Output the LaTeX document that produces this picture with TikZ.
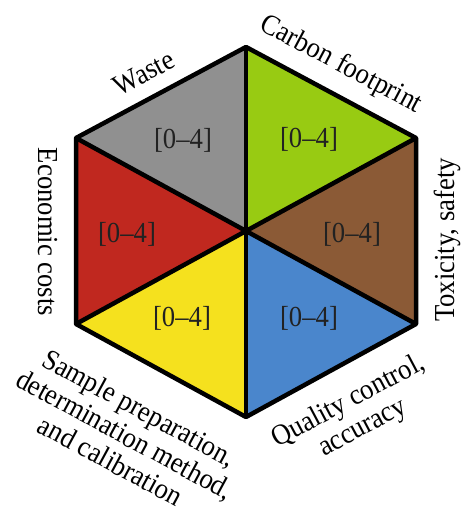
\documentclass[tikz,border=0pt]{standalone}
\usepackage{fontspec}
\setmainfont{Liberation Serif}[FakeStretch=0.92]
\definecolor{cgray}{HTML}{909090}
\definecolor{cgreen}{HTML}{98CB12}
\definecolor{cbrown}{HTML}{8B5A36}
\definecolor{cblue}{HTML}{4A86CC}
\definecolor{cyellow}{HTML}{F5E11E}
\definecolor{cred}{HTML}{C0281F}
\definecolor{ctext}{HTML}{222222}
\tikzset{
  sector/.style={draw=black, line width=4.5pt, line join=round},
  score/.style={text=ctext, font=\fontsize{29}{31}\selectfont, inner sep=0pt},
  axislabel/.style={text=black, font=\fontsize{29}{30}\selectfont, align=center, inner sep=0pt}
}
\begin{document}
\begin{tikzpicture}[x=1pt,y=1pt]
\useasboundingbox (0,0) rectangle (460,508);
\coordinate (C) at (246,277);
\coordinate (T) at (246,461);
\coordinate (UR) at (416,370);
\coordinate (LR) at (416,184);
\coordinate (B) at (246,91);
\coordinate (LL) at (76,184);
\coordinate (UL) at (76,370);
\fill[cgray] (C) -- (UL) -- (T) -- cycle;
\fill[cgreen] (C) -- (T) -- (UR) -- cycle;
\fill[cbrown] (C) -- (UR) -- (LR) -- cycle;
\fill[cblue] (C) -- (LR) -- (B) -- cycle;
\fill[cyellow] (C) -- (B) -- (LL) -- cycle;
\fill[cred] (C) -- (LL) -- (UL) -- cycle;
\draw[sector] (T) -- (UR) -- (LR) -- (B) -- (LL) -- (UL) -- cycle;
\draw[sector] (T) -- (B);
\draw[sector] (UL) -- (LR);
\draw[sector] (UR) -- (LL);
\node[score] (s1) at (183,368) {[0–4]};
\node[score] (s2) at (309,369) {[0–4]};
\node[score] (s3) at (127,274) {[0–4]};
\node[score] (s4) at (352,274) {[0–4]};
\node[score] (s5) at (182,190) {[0–4]};
\node[score] (s6) at (309,190) {[0–4]};
\node[axislabel, rotate=28] (waste) at (144,435) {Waste};
\node[axislabel, rotate=-28] (carbon) at (341,443) {Carbon footprint};
\node[axislabel, rotate=-90] (econ) at (48,276) {Economic costs};
\node[axislabel, rotate=90] (tox) at (447,268) {Toxicity, safety};
\node[axislabel, rotate=-28.5] (sample) at (125,74) {Sample preparation,\\determination method,\\and calibration};
\node[axislabel, rotate=28] (quality) at (356,93) {Quality control,\\accuracy};
\end{tikzpicture}
\end{document}
